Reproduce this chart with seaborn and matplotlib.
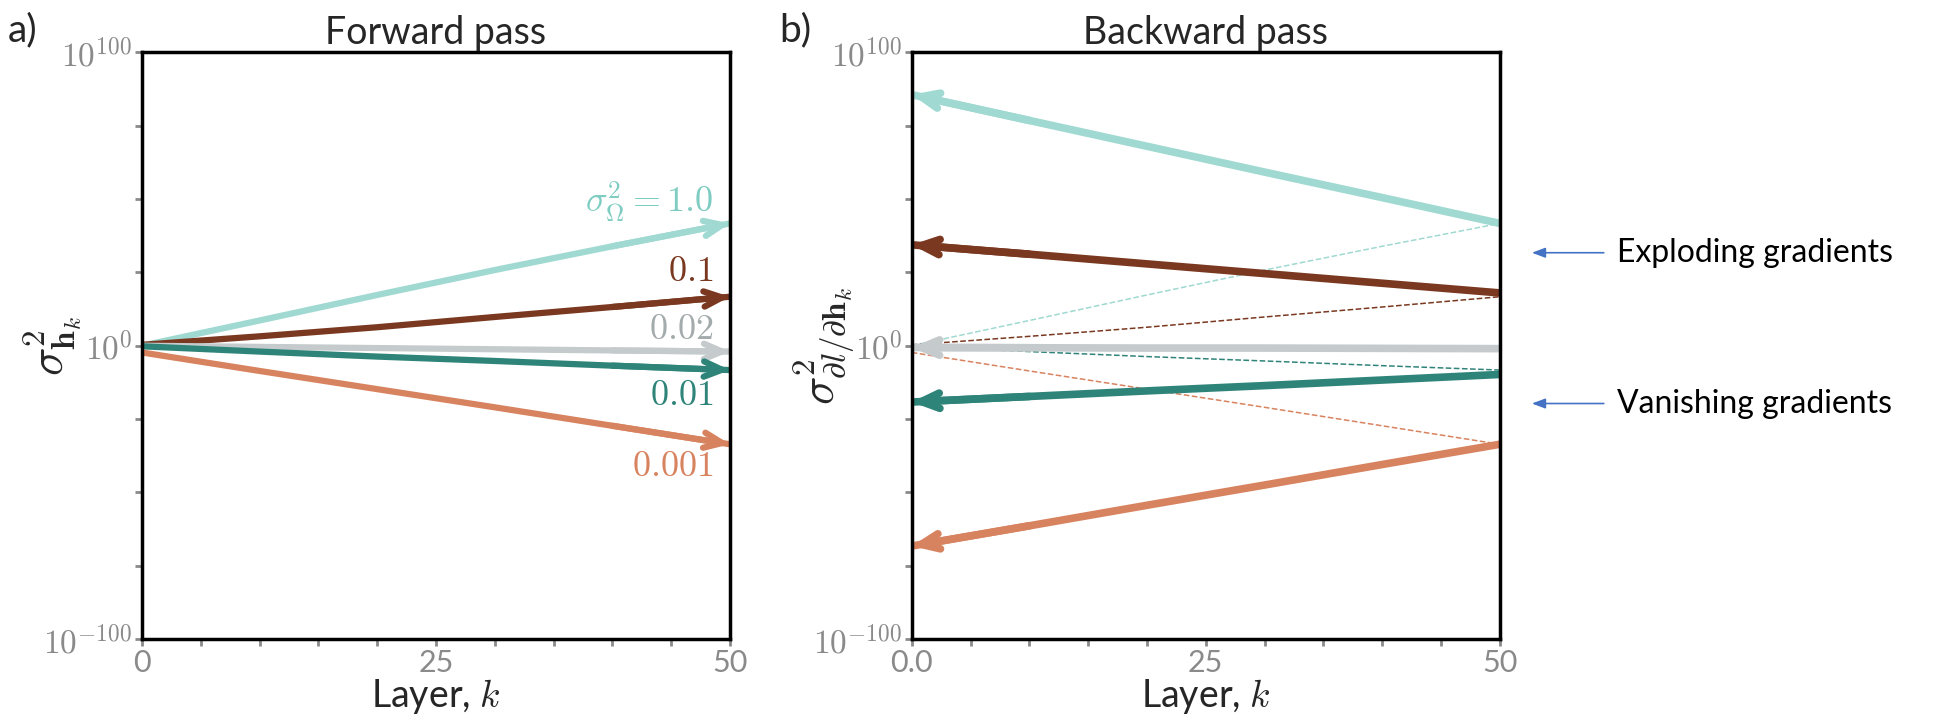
import numpy as np
import pandas as pd
import seaborn as sns
import matplotlib.pyplot as plt
from matplotlib.ticker import NullLocator

# values, as log10 of the variance
layers = [0, 10, 20, 30, 40, 50]
sigma_labels = ["1.0", "0.1", "0.02", "0.01", "0.001"]

fwd_1p0 = [0.0, 8.6, 17.3, 25.8, 33.9, 41.7]
fwd_0p1 = [0.3, 3.2, 6.3, 9.8, 13.2, 16.7]
fwd_0p02 = [0.0, -0.4, -0.8, -1.2, -1.6, -2.0]
fwd_0p01 = [-0.2, -2.0, -3.7, -5.2, -6.8, -8.3]
fwd_0p001 = [-2.3, -8.6, -14.8, -21.0, -27.3, -33.6]

bwd_1p0 = [85.6, 76.8, 68.0, 59.2, 50.5, 41.7]
bwd_0p1 = [34.4, 31.2, 27.9, 24.6, 21.3, 18.0]
bwd_0p02 = [-0.6, -0.7, -0.8, -0.8, -0.9, -1.0]
bwd_0p01 = [-19.2, -17.3, -15.4, -13.6, -11.7, -9.8]
bwd_0p001 = [-68.3, -61.4, -54.4, -47.5, -40.5, -33.6]

colors = ["#9fd9d1", "#7a3821", "#c5cbcc", "#2f8479", "#d8835f"]
label_colors = ["#7fcdc2", "#7a3821", "#a4abad", "#2f8479", "#d8835f"]

fwd = [fwd_1p0, fwd_0p1, fwd_0p02, fwd_0p01, fwd_0p001]
bwd = [bwd_1p0, bwd_0p1, bwd_0p02, bwd_0p01, bwd_0p001]


def to_frame(series):
    rows = []
    for lab, vals in zip(sigma_labels, series):
        for k, v in zip(layers, vals):
            rows.append({"layer": k, "var": 10.0 ** v, "sigma": lab})
    return pd.DataFrame(rows)


df_fwd = to_frame(fwd)
df_bwd = to_frame(bwd)
palette = dict(zip(sigma_labels, colors))

sns.set_style("white")
plt.rcParams["font.family"] = ["Lato", "DejaVu Sans"]
plt.rcParams["mathtext.fontset"] = "cm"

fig = plt.figure(figsize=(19.44, 7.18), dpi=100)
ax1 = fig.add_axes([0.073, 0.11, 0.3025, 0.817])
ax2 = fig.add_axes([0.469, 0.11, 0.3025, 0.817])

grey = "#8a8a8a"


def style_axes(ax, xlabels, ylab_x):
    ax.set_yscale("log")
    ax.set_xlim(0, 50)
    ax.set_ylim(1e-100, 1e100)
    ax.set_yticks([10.0 ** e for e in range(-100, 101, 25)])
    ax.set_yticklabels([r"$10^{-100}$" if e == -100 else r"$10^{0}$" if e == 0 else
                        r"$10^{100}$" if e == 100 else "" for e in range(-100, 101, 25)])
    ax.yaxis.set_minor_locator(NullLocator())
    ax.set_xticks(range(0, 51, 5))
    ax.set_xticklabels([xlabels.get(k, "") for k in range(0, 51, 5)])
    ax.tick_params(axis="both", direction="out", length=5, width=2, color=grey,
                   labelcolor=grey, left=True, bottom=True)
    ax.tick_params(axis="x", pad=2, labelsize=22)
    ax.tick_params(axis="y", pad=2, labelsize=24)
    for s in ax.spines.values():
        s.set_color("black")
        s.set_linewidth(2.5)
    ax.set_xlabel(r"Layer, $k$", fontsize=27, labelpad=0)
    ax.yaxis.set_label_coords(ylab_x, 0.5)


def arrow(ax, x0, y0, x1, y1, color, lw):
    ax.annotate("", xy=(x1, y1), xytext=(x0, y0),
                arrowprops=dict(arrowstyle="->,head_length=1.3,head_width=0.55",
                                color=color, lw=lw, shrinkA=0, shrinkB=0,
                                mutation_scale=10))


# forward pass
sns.lineplot(data=df_fwd, x="layer", y="var", hue="sigma", palette=palette,
             linewidth=4.5, legend=False, ax=ax1, estimator=None)
for vals, c in zip(fwd, colors):
    arrow(ax1, layers[-2], 10.0 ** vals[-2], layers[-1], 10.0 ** vals[-1], c, 4.5)
ax1.set_ylabel(r"$\sigma^2_{\mathbf{h}_k}$", fontsize=34)
style_axes(ax1, {0: "0", 25: "25", 50: "50"}, -0.1)
ax1.set_title("Forward pass", fontsize=27, pad=6)

label_pos = [45.3, 21.9, 2.3, -20.3, -44.5]
label_txt = [r"$\sigma^2_{\mathbf{\Omega}}=1.0$", "$0.1$", "$0.02$", "$0.01$", "$0.001$"]
for t, yv, c in zip(label_txt, label_pos, label_colors):
    ax1.text(48.6, 10.0 ** yv, t, color=c, fontsize=26, ha="right", va="baseline")

# backward pass
sns.lineplot(data=df_fwd[df_fwd["sigma"] != "0.02"], x="layer", y="var", hue="sigma",
             palette=palette, linewidth=1.1, linestyle="--", legend=False, ax=ax2,
             estimator=None)
sns.lineplot(data=df_bwd, x="layer", y="var", hue="sigma", palette=palette,
             linewidth=5.5, legend=False, ax=ax2, estimator=None)
for vals, c in zip(bwd, colors):
    arrow(ax2, layers[1], 10.0 ** vals[1], layers[0], 10.0 ** vals[0], c, 5.5)
ax2.set_ylabel(r"$\sigma^2_{\partial l/\partial \mathbf{h}_k}$", fontsize=34)
style_axes(ax2, {0: "0.0", 25: "25", 50: "50"}, -0.093)
ax2.set_title("Backward pass", fontsize=27, pad=6)

fig.text(0.004, 0.958, "a)", fontsize=28, va="center", ha="left")
fig.text(0.401, 0.958, "b)", fontsize=28, va="center", ha="left")

# side notes
blue = "#4472c4"
for txt, yf in [("Exploding gradients", 0.648), ("Vanishing gradients", 0.438)]:
    fig.text(0.832, yf, txt, fontsize=23, va="center", ha="left", color="black")
    fig.add_artist(plt.Annotation("", xy=(0.788, yf), xytext=(0.825, yf),
                                  xycoords="figure fraction", textcoords="figure fraction",
                                  arrowprops=dict(arrowstyle="-|>,head_length=0.8,head_width=0.3",
                                                  color=blue, lw=1.2, shrinkA=0, shrinkB=0,
                                                  mutation_scale=10)))

fig.savefig("out.png", dpi=100)
